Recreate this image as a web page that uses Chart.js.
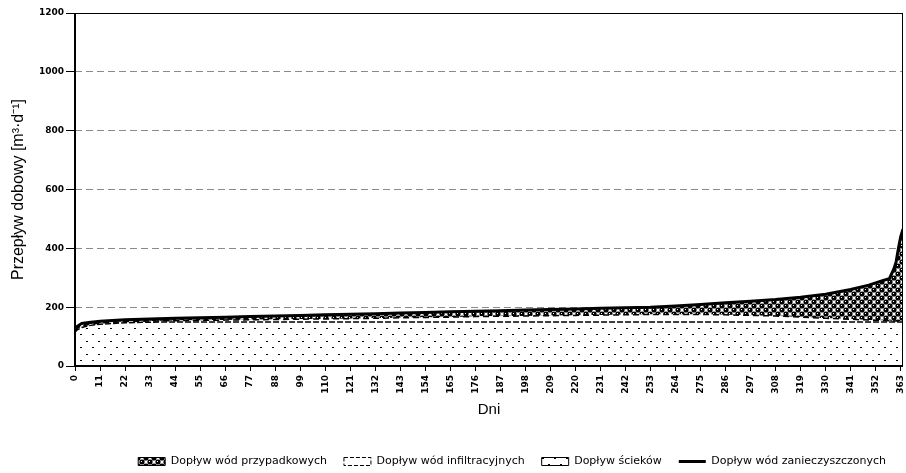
<!DOCTYPE html>
<html>
<head>
<meta charset="utf-8">
<script src="https://cdn.jsdelivr.net/npm/chart.js@4.4.0/dist/chart.umd.min.js"></script>
<style>
  html, body { margin: 0; padding: 0; background: #fff; }
</style>
</head>
<body>
<canvas id="flowChart" width="906" height="473"></canvas>
<script>
const days = [0, 1, 3, 6, 11, 22, 33, 44, 55, 66, 77, 88, 99, 110, 121, 132, 143, 154, 165, 176,
  187, 198, 209, 220, 231, 242, 253, 264, 275, 286, 297, 308, 319, 330, 341, 349, 355, 358, 360, 361,
  362, 363, 364];

// bottom layer - sewage
const sciekow = [115, 123, 131, 137, 142, 147, 149, 150, 150, 150, 150, 150, 150, 150, 150, 150, 150, 150, 150, 150,
  150, 150, 150, 150, 150, 150, 150, 150, 150, 150, 150, 150, 150, 150, 150, 150, 150, 150, 150, 150,
  150, 150, 150];

// infiltration water (thickness of the layer)
const infiltracyjne = [5, 5, 5, 4, 4, 4, 4, 4, 5, 6, 7, 8, 9, 10, 11, 12, 14, 15, 16, 18,
  19, 20, 21, 22, 23, 24, 25, 25, 25, 24, 22, 20, 16, 12, 9, 6, 5, 4, 3, 3,
  3, 3, 3];

// incidental water (thickness of the top layer)
const przypadkowe = [5, 7, 9, 7, 6, 6, 7, 8, 9, 10, 11, 12, 13, 14, 15, 16, 16, 17, 18, 18,
  19, 20, 21, 22, 23, 24, 25, 29, 34, 41, 48, 56, 68, 82, 101, 119, 135, 143, 177, 202,
  247, 287, 312];

// total polluted water inflow (black line)
const zanieczyszczone = [125, 135, 145, 148, 152, 157, 160, 162, 164, 166, 168, 170, 172, 174, 176, 178, 180, 182, 184, 186,
  188, 190, 192, 194, 196, 198, 200, 204, 209, 215, 220, 226, 234, 244, 260, 275, 290, 297, 330, 355,
  400, 440, 465];

const xTicks = [0, 11, 22, 33, 44, 55, 66, 77, 88, 99, 110, 121, 132, 143, 154, 165, 176, 187, 198, 209,
  220, 231, 242, 253, 264, 275, 286, 297, 308, 319, 330, 341, 352, 363];
const yTicks = [0, 200, 400, 600, 800, 1000, 1200];
const legendOrder = [2, 1, 0, 3];

// fill patterns like the excel ones
function makePattern(w, h, draw) {
  const c = document.createElement('canvas');
  c.width = w;
  c.height = h;
  const g = c.getContext('2d');
  draw(g);
  return g.createPattern(c, 'repeat');
}

const dotsFill = makePattern(12, 13, g => {
  g.fillStyle = '#fff';
  g.fillRect(0, 0, 12, 13);
  g.fillStyle = '#000';
  g.fillRect(2, 3, 2, 1);
  g.fillRect(8, 9, 2, 1);
});

const ballsFill = makePattern(8, 8, g => {
  g.fillStyle = '#fff';
  g.fillRect(0, 0, 8, 8);
  g.fillStyle = '#000';
  for (const [cx, cy] of [[2, 2], [6, 6]]) {
    for (const dx of [-8, 0, 8]) {
      for (const dy of [-8, 0, 8]) {
        g.beginPath();
        g.arc(cx + dx, cy + dy, 2.6, 0, Math.PI * 2);
        g.fill();
      }
    }
  }
  g.fillStyle = '#fff';
  g.fillRect(1, 1, 1, 1);
  g.fillRect(5, 5, 1, 1);
});

// plot frame (top/right thin, axes thicker)
const frame = {
  id: 'frame',
  afterDatasetsDraw(chart) {
    const { ctx, chartArea: a } = chart;
    ctx.save();
    ctx.strokeStyle = '#000';
    ctx.lineWidth = 1;
    ctx.beginPath();
    ctx.moveTo(a.left, a.top + 0.5);
    ctx.lineTo(a.right, a.top + 0.5);
    ctx.moveTo(a.right - 0.5, a.top);
    ctx.lineTo(a.right - 0.5, a.bottom);
    ctx.stroke();
    ctx.lineWidth = 2;
    ctx.beginPath();
    ctx.moveTo(a.left, a.top);
    ctx.lineTo(a.left, a.bottom);
    ctx.lineTo(a.right, a.bottom);
    ctx.stroke();
    ctx.restore();
  }
};

Chart.defaults.font.family = '"Liberation Sans", Arial, sans-serif';
Chart.defaults.color = '#000';

const tickFont = { family: '"DejaVu Sans", sans-serif', size: 9, weight: 'bold' };

new Chart(document.getElementById('flowChart'), {
  type: 'line',
  data: {
    labels: days,
    datasets: [{
      label: 'Dopływ ścieków',
      data: sciekow,
      backgroundColor: dotsFill,
      borderColor: '#000',
      borderWidth: 1.5,
      borderDash: [6, 2],
      fill: 'origin',
      stack: 'sum',
      pointRadius: 0
    }, {
      label: 'Dopływ wód infiltracyjnych',
      data: infiltracyjne,
      backgroundColor: '#fff',
      borderColor: '#000',
      borderWidth: 1.5,
      borderDash: [6, 4],
      fill: '-1',
      stack: 'sum',
      pointRadius: 0
    }, {
      label: 'Dopływ wód przypadkowych',
      data: przypadkowe,
      backgroundColor: ballsFill,
      borderColor: '#000',
      borderWidth: 1,
      fill: '-1',
      stack: 'sum',
      pointRadius: 0
    }, {
      label: 'Dopływ wód zanieczyszczonych',
      data: zanieczyszczone,
      borderColor: '#000',
      borderWidth: 3,
      fill: false,
      stack: 'total',
      order: -1,
      pointRadius: 0
    }]
  },
  options: {
    responsive: false,
    animation: false,
    layout: { padding: { top: 13, right: 3, left: 0, bottom: -4 } },
    plugins: {
      tooltip: { enabled: false },
      legend: {
        position: 'bottom',
        align: 'end',
        labels: {
          usePointStyle: true,
          pointStyleWidth: 27,
          boxHeight: 8,
          padding: 17,
          font: { family: '"DejaVu Sans", sans-serif', size: 11 },
          generateLabels(chart) {
            return legendOrder.map(i => {
              const ds = chart.data.datasets[i];
              return {
                text: ds.label,
                datasetIndex: i,
                fillStyle: ds.fill === false ? '#000' : ds.backgroundColor,
                strokeStyle: '#000',
                lineWidth: i === 3 ? 3 : 1,
                lineDash: i === 1 ? [4, 2] : [],
                pointStyle: ds.fill === false ? 'line' : 'rect',
                hidden: false
              };
            });
          }
        }
      }
    },
    scales: {
      x: {
        type: 'linear',
        min: 0,
        max: 364,
        grid: { drawOnChartArea: false, tickLength: 5, tickColor: '#000' },
        border: { display: false },
        ticks: {
          autoSkip: false,
          minRotation: 90,
          maxRotation: 90,
          padding: 4,
          font: tickFont,
          color: '#000',
          callback: v => String(v)
        },
        afterBuildTicks(axis) {
          axis.ticks = xTicks.map(v => ({ value: v }));
        },
        afterFit(axis) {
          axis.height = 73;
          axis.paddingLeft = 0;
          axis.paddingRight = 0;
        },
        title: {
          display: true,
          text: 'Dni',
          font: { size: 15 },
          padding: { top: 0, bottom: 20 }
        }
      },
      y: {
        stacked: true,
        min: 0,
        max: 1200,
        grid: { color: '#8a8a8a', tickLength: 9, tickColor: '#000' },
        border: { display: false, dash: [7, 4] },
        afterBuildTicks(axis) {
          axis.ticks = yTicks.map(v => ({ value: v }));
        },
        ticks: { padding: 2, font: tickFont, color: '#000', callback: v => String(v) },
        afterFit(axis) { axis.width = 75; },
        title: {
          display: true,
          text: 'Przepływ dobowy [m³·d⁻¹]',
          font: { size: 16 },
          padding: { top: 9, bottom: 0 }
        }
      }
    }
  },
  plugins: [frame]
});
</script>
</body>
</html>
